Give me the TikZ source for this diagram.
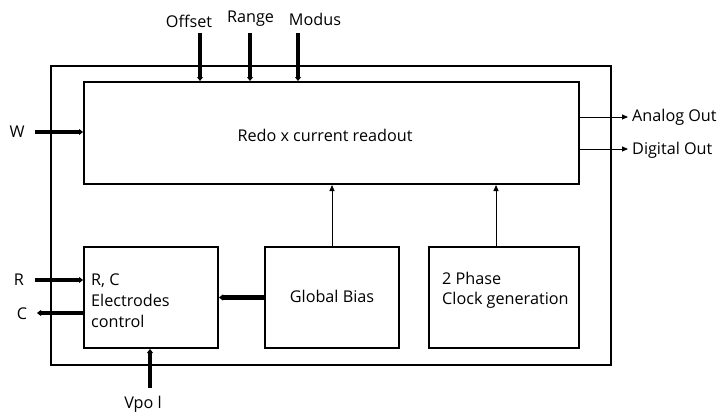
\documentclass[tikz,border=0pt]{standalone}
\usepackage{fontspec}
\setmainfont{Open Sans}
\usetikzlibrary{arrows.meta}
\begin{document}
\begin{tikzpicture}[x=1pt,y=-1pt,
  box/.style={draw,line width=2pt,inner sep=0pt},
  lbl/.style={inner sep=0pt,font=\fontsize{16.2}{19}\selectfont},
  fat/.style={line width=4.5pt,-{Triangle[length=4pt,width=6pt]}},
  thin/.style={line width=0.9pt,-{Triangle[length=6pt,width=5pt]}}]
\useasboundingbox (0,0) rectangle (720,412);
\node[box,minimum width=560pt,minimum height=299pt] (outer) at (331,215.5) {};
\node[box,minimum width=495pt,minimum height=102pt] (main) at (331.5,133) {};
\node[box,minimum width=134pt,minimum height=101pt] (rc) at (151,297.5) {};
\node[box,minimum width=134pt,minimum height=101pt] (gb) at (332,297.5) {};
\node[box,minimum width=150pt,minimum height=101pt] (clk) at (504,297.5) {};
% texts
\node[lbl] (maint) at (325,135) {Redo x current readout};
\node[lbl,align=left,anchor=west] (rct) at (91,301) {R, C\\[2pt]Electrodes\\[2pt]control};
\node[lbl] (gbt) at (332,296) {Global Bias};
\node[lbl,align=left,anchor=west] (clt) at (442,290) {2 Phase\\[1pt]Clock generation};
% top inputs
\node[lbl] (off) at (189,21) {Offset};
\node[lbl] (rng) at (250.5,19) {Range};
\node[lbl] (mod) at (315,19) {Modus};
\coordinate (offa) at (200,33);
\coordinate (rnga) at (250,33);
\coordinate (moda) at (298,33);
\draw[fat] (offa) -- (offa |- main.north);
\draw[fat] (rnga) -- (rnga |- main.north);
\draw[fat] (moda) -- (moda |- main.north);
% left
\node[lbl] (w) at (17,132) {W};
\coordinate (wa) at (35,132);
\draw[fat] (wa) -- (wa -| main.west);
\node[lbl] (r) at (19,280) {R};
\coordinate (ra) at (35,280);
\draw[fat] (ra) -- (ra -| rc.west);
\node[lbl] (c) at (22,314) {C};
\coordinate (cb) at (37,313);
\draw[fat] (cb -| rc.west) -- (cb);
% global bias to RC
\draw[fat] (gb.west) -- (rc.east);
% vpol
\node[lbl] (vp) at (143,404) {Vpo l};
\coordinate (va) at (150,388);
\draw[fat] (va) -- (va |- rc.south);
% thin arrows
\draw[thin] (gb.north) -- (gb.north |- main.south);
\coordinate (k1) at (496,247);
\draw[thin] (k1) -- (k1 |- main.south);
\coordinate (ao2) at (628,117);
\coordinate (do2) at (628,149);
\draw[thin] (ao2 -| main.east) -- (ao2);
\draw[thin] (do2 -| main.east) -- (do2);
\node[lbl,anchor=west] (aot) at (632,117) {Analog Out};
\node[lbl,anchor=west] (dot) at (632,150) {Digital Out};
\end{tikzpicture}
\end{document}
